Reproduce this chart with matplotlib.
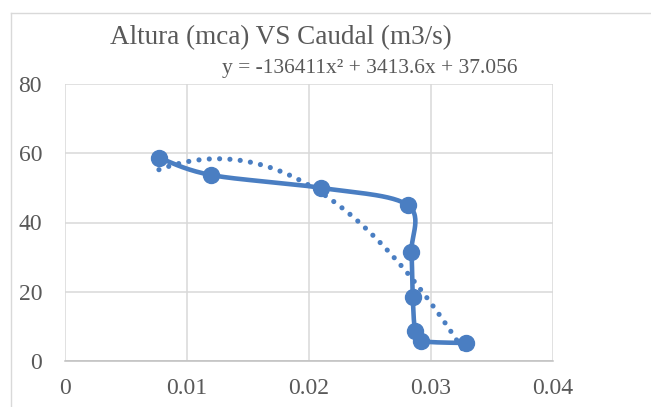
import numpy as np
import matplotlib.pyplot as plt
from matplotlib.lines import Line2D

# Caudal (m3/s) y altura (mca) medidos
caudal = [0.0077, 0.0120, 0.0210, 0.0281, 0.0284, 0.0285, 0.0287, 0.0292, 0.0329]
altura = [58.7, 53.7, 50.0, 45.0, 31.5, 18.5, 8.7, 5.8, 5.2]

# coeficientes de la línea de tendencia polinómica (grado 2)
coef = [-136411, 3413.6, 37.056]

xticks = [0, 0.01, 0.02, 0.03, 0.04]
yticks = [0, 20, 40, 60, 80]

azul = "#4A7EC2"
gris = "#595959"
fuente = "Liberation Serif"


def curva_suave(x, y, n=30):
    # spline tipo Catmull-Rom con segmentos Bezier, como las líneas suavizadas de Excel
    p = np.column_stack([x, y])
    pts = []
    for i in range(len(p) - 1):
        p0 = p[max(i - 1, 0)]
        p1 = p[i]
        p2 = p[i + 1]
        p3 = p[min(i + 2, len(p) - 1)]
        c1 = p1 + (p2 - p0) / 6
        c2 = p2 - (p3 - p1) / 6
        t = np.linspace(0, 1, n)[:, None]
        seg = ((1 - t) ** 3) * p1 + 3 * ((1 - t) ** 2) * t * c1 + 3 * (1 - t) * t ** 2 * c2 + t ** 3 * p2
        pts.append(seg if i == 0 else seg[1:])
    pts = np.vstack(pts)
    return pts[:, 0], pts[:, 1]


fig = plt.figure(figsize=(6.51, 4.07), dpi=100)
ax = fig.add_axes([65 / 651, 46 / 407, 488 / 651, 277 / 407])

# marco del área del gráfico
fig.add_artist(Line2D([11 / 651, 11 / 651], [0, 1 - 13 / 407], transform=fig.transFigure, color="#d9d9d9", lw=1))
fig.add_artist(Line2D([11 / 651, 1], [1 - 13 / 407, 1 - 13 / 407], transform=fig.transFigure, color="#d9d9d9", lw=1))

xs, ys = curva_suave(caudal, altura)
ax.plot(xs, ys, color=azul, lw=3.3, solid_capstyle="round", zorder=3)
ax.plot(caudal, altura, "o", color=azul, ms=11.5, zorder=4)

xt = np.linspace(min(caudal), max(caudal), 200)
ax.plot(xt, np.polyval(coef, xt), color=azul, lw=3.7, linestyle=(0, (0.01, 2.0)),
        dash_capstyle="round", zorder=2)

ax.set_xlim(0, 0.04)
ax.set_ylim(0, 80)
ax.set_xticks(xticks)
ax.set_yticks(yticks)
ax.set_xticklabels(["0", "0.01", "0.02", "0.03", "0.04"])
ax.grid(True, color="#d9d9d9", lw=1.1)
ax.set_axisbelow(True)
for s in ["top", "right", "left"]:
    ax.spines[s].set_visible(False)
ax.spines["bottom"].set_color("#bfbfbf")
ax.spines["bottom"].set_linewidth(1.1)
ax.tick_params(length=0, labelsize=17, labelcolor=gris)
ax.tick_params(axis="y", pad=16.5)
ax.tick_params(axis="x", pad=12)
for lab in ax.get_xticklabels() + ax.get_yticklabels():
    lab.set_family(fuente)

fig.text(281 / 651, 1 - 38 / 407, "Altura (mca) VS Caudal (m3/s)", ha="center", va="center",
         fontsize=19.5, color=gris, family=fuente)
fig.text(370 / 651, 1 - 68 / 407, "y = -136411x² + 3413.6x + 37.056", ha="center", va="center",
         fontsize=15.5, color=gris, family=fuente)

fig.savefig("out.png", dpi=100)
